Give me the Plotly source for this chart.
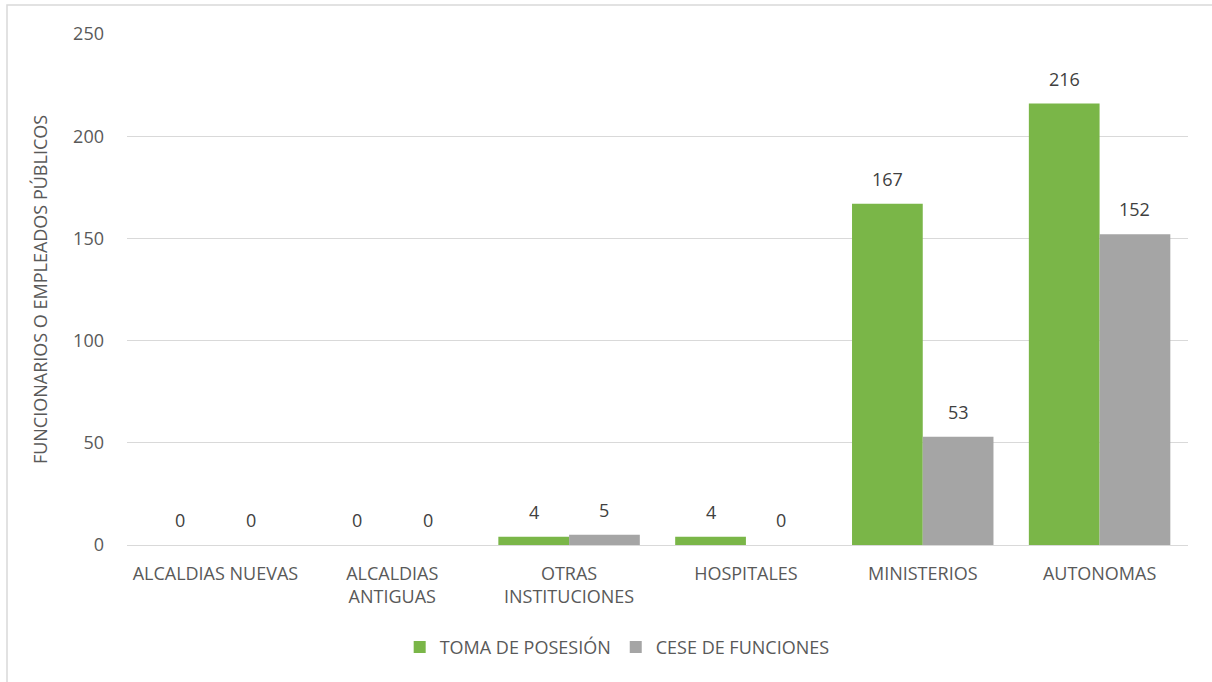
import plotly.graph_objects as go

categories = ["ALCALDIAS NUEVAS", "ALCALDIAS<br>ANTIGUAS", "OTRAS<br>INSTITUCIONES", "HOSPITALES", "MINISTERIOS", "AUTONOMAS"]
toma = [0, 0, 4, 4, 167, 216]
cese = [0, 0, 5, 0, 53, 152]
series_names = ["TOMA DE POSESIÓN", "CESE DE FUNCIONES"]
y_ticks = [0, 50, 100, 150, 200, 250]

font_family = "Open Sans, Noto Sans, sans-serif"
txt_color = "#595959"
lbl_color = "#404040"
colors = ["#7AB648", "#A5A5A5"]
bargap = 0.2

fig = go.Figure()
for name, vals, col in zip(series_names, [toma, cese], colors):
    fig.add_trace(go.Bar(x=list(range(len(categories))), y=vals, name=name, marker_color=col,
                         marker_line_width=0))

# data labels as annotations, offset to each bar's centre within the group
half = (1 - bargap) / 4
for k, vals in enumerate([toma, cese]):
    off = -half if k == 0 else half
    for i, v in enumerate(vals):
        fig.add_annotation(x=i + off, y=v, text=str(v), showarrow=False,
                           yanchor="bottom", yshift=11,
                           font=dict(size=18, color=lbl_color, family=font_family))

fig.update_layout(
    width=1212, height=682,
    margin=dict(l=127, r=24, t=34, b=137),
    paper_bgcolor="white", plot_bgcolor="white",
    barmode="group", bargap=bargap, bargroupgap=0,
    font=dict(family=font_family, size=18, color=txt_color),
    legend=dict(orientation="h", x=0.462, xanchor="center", y=-0.2, yanchor="middle",
                font=dict(size=18, color=txt_color), itemwidth=30, traceorder="normal"),
    showlegend=True,
)
fig.update_xaxes(showgrid=False, showline=True, linecolor="#d9d9d9", linewidth=1,
                 tickmode="array", tickvals=list(range(len(categories))), ticktext=categories,
                 range=[-0.5, len(categories) - 0.5],
                 tickfont=dict(size=18, color=txt_color), ticks="", ticklabelstandoff=12)
fig.update_yaxes(range=[0, 250], tickvals=y_ticks, showgrid=True, gridcolor="#d9d9d9",
                 gridwidth=1, zeroline=False, showline=False, ticks="",
                 tickfont=dict(size=18, color=txt_color), ticklabelstandoff=22,
                 title=dict(text="FUNCIONARIOS O EMPLEADOS PÚBLICOS", standoff=20,
                            font=dict(size=18, color=txt_color)))

# outer chart border
fig.add_shape(type="rect", xref="paper", yref="paper",
              x0=(7 - 127) / 1061, x1=1.2, y0=-0.5, y1=(545 - 5) / 511,
              line=dict(color="#d9d9d9", width=1.5), fillcolor="rgba(0,0,0,0)", layer="below")

fig.write_html("out.html", config={"displayModeBar": False},
               post_script="document.body.style.margin='0';document.body.style.overflow='hidden';")
